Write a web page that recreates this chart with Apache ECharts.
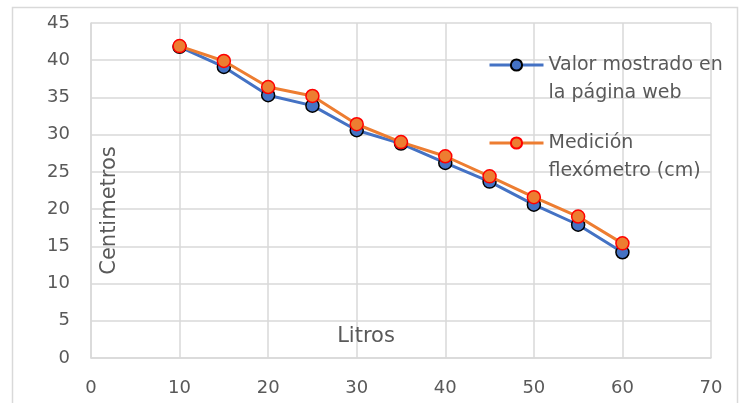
<!DOCTYPE html>
<html>
<head>
<meta charset="utf-8">
<script src="https://cdn.jsdelivr.net/npm/echarts@6/dist/echarts.min.js"></script>
<style>
  html, body { margin: 0; padding: 0; background: #fff; }
  #chart { width: 745px; height: 403px; }
</style>
</head>
<body>
<div id="chart"></div>
<script>
// Litros (x) vs. centímetros (y)
const litros = [10, 15, 20, 25, 30, 35, 40, 45, 50, 55, 60];
const valorWeb = [41.8, 39.1, 35.3, 33.9, 30.6, 28.8, 26.2, 23.7, 20.6, 17.9, 14.2];
const medicionFlex = [41.9, 39.9, 36.4, 35.2, 31.4, 29.0, 27.1, 24.4, 21.6, 19.0, 15.4];
const xTicks = [0, 10, 20, 30, 40, 50, 60, 70];
const yTicks = [0, 5, 10, 15, 20, 25, 30, 35, 40, 45];

const nameWeb = 'Valor mostrado en\nla página web';
const nameFlex = 'Medición\nflexómetro (cm)';

const FONT = 'DejaVu Sans';
const GREY = '#595959';
const GRID = '#d9d9d9';

const pairs = (xs, ys) => xs.map((x, i) => [x, ys[i]]);

// a blank leading line keeps the icon level with the first text line
const legendCommon = {
  left: 488, padding: 0,
  itemWidth: 54, itemHeight: 14, itemGap: 5,
  formatter: n => '\n' + n,
  lineStyle: { width: 3 },
  textStyle: { fontFamily: FONT, fontSize: 19, color: GREY, lineHeight: 28 }
};

const chart = echarts.init(document.getElementById('chart'), null, { renderer: 'canvas' });
chart.setOption({
  animation: false,
  backgroundColor: '#fff',
  graphic: [{
    type: 'rect',
    shape: { x: 12.5, y: 7.5, width: 725, height: 420 },
    style: { fill: 'none', stroke: GRID, lineWidth: 1.5 },
    silent: true, z: -10
  }],
  grid: { left: 91, right: 34, top: 23, bottom: 45, containLabel: false },
  xAxis: {
    type: 'value',
    min: xTicks[0], max: xTicks[xTicks.length - 1], interval: 10,
    name: 'Litros',
    nameLocation: 'middle',
    nameGap: -32,
    nameMoveOverlap: false,
    nameTextStyle: { fontFamily: FONT, fontSize: 21, color: GREY, padding: [0, 70, 0, 0] },
    axisLine: { show: true, lineStyle: { color: GRID, width: 1.5 } },
    axisTick: { show: false },
    axisLabel: { fontFamily: FONT, fontSize: 18, color: GREY, margin: 21 },
    splitLine: { show: true, lineStyle: { color: GRID, width: 1.5 } }
  },
  yAxis: {
    type: 'value',
    min: yTicks[0], max: yTicks[yTicks.length - 1], interval: 5,
    name: 'Centimetros',
    nameLocation: 'middle',
    nameRotate: 90,
    nameGap: -29,
    nameMoveOverlap: false,
    nameTextStyle: { fontFamily: FONT, fontSize: 21, color: GREY, padding: [0, 40, 0, 0] },
    axisLine: { show: true, lineStyle: { color: GRID, width: 1.5 } },
    axisTick: { show: false },
    axisLabel: { fontFamily: FONT, fontSize: 18, color: GREY, margin: 21 },
    splitLine: { show: true, lineStyle: { color: GRID, width: 1.5 } }
  },
  legend: [
    Object.assign({ data: [nameWeb], top: 23 }, legendCommon),
    Object.assign({ data: [nameFlex], top: 101 }, legendCommon)
  ],
  series: [
    {
      name: nameWeb,
      type: 'line',
      data: pairs(litros, valorWeb),
      symbol: 'circle', symbolSize: 13,
      lineStyle: { color: '#4472C4', width: 3 },
      itemStyle: { color: '#4472C4', borderColor: '#000', borderWidth: 1.5 },
      z: 2
    },
    {
      name: nameFlex,
      type: 'line',
      data: pairs(litros, medicionFlex),
      symbol: 'circle', symbolSize: 13,
      lineStyle: { color: '#ED7D31', width: 3 },
      itemStyle: { color: '#ED7D31', borderColor: '#FF0000', borderWidth: 1.5 },
      z: 3
    }
  ]
});
</script>
</body>
</html>
